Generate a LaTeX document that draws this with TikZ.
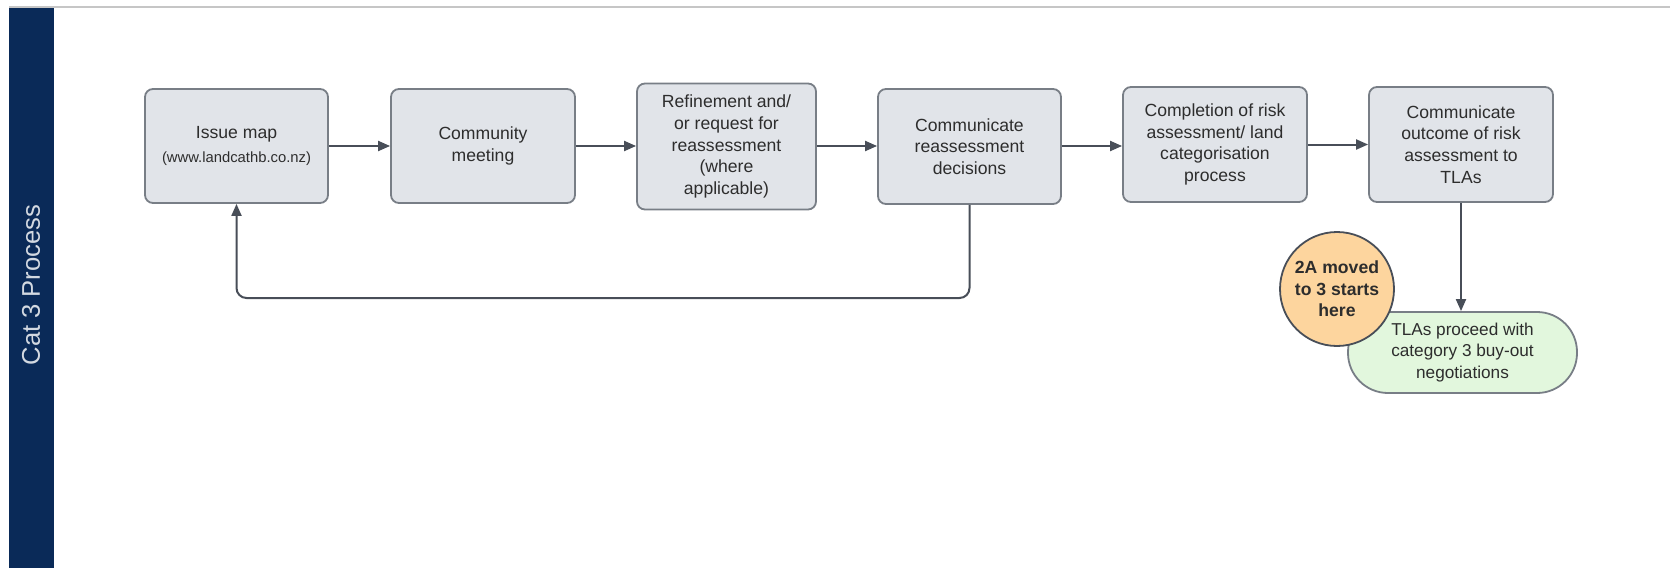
\documentclass[tikz,border=0pt]{standalone}
\usepackage{fontspec}
\setmainfont{Liberation Sans}
\usetikzlibrary{arrows.meta}
\definecolor{navy}{RGB}{10,42,88}
\definecolor{boxfill}{RGB}{225,228,233}
\definecolor{boxline}{RGB}{120,126,134}
\definecolor{conn}{RGB}{72,78,88}
\definecolor{txt}{RGB}{45,45,45}
\definecolor{peach}{RGB}{253,213,158}
\definecolor{mint}{RGB}{226,247,221}
\tikzset{
  x=0.5pt, y=-0.5pt,
  stepbox/.style={draw=boxline, fill=boxfill, line width=0.9pt, rounded corners=4pt,
    align=center, text=txt, inner sep=2pt, font=\fontsize{8.8}{10.8}\selectfont},
  arr/.style={draw=conn, line width=1pt, -{Triangle[length=6pt,width=5pt]}},
}
\begin{document}
\begin{tikzpicture}
\useasboundingbox (0,0) rectangle (1670,568);
% lane header
\fill[navy] (9,7) rectangle (54,568);
\draw[gray!45, line width=1pt] (9,7) -- (1670,7);
\node[rotate=90, text=white!82!navy, font=\fontsize{12.8}{14}\selectfont] (lane) at (31,285) {Cat 3 Process};
% boxes
\node[stepbox, minimum width=91.5pt, minimum height=57pt] (b1) at (236.5,146)
  {Issue map\\[1pt]{\fontsize{7.4}{9}\selectfont (www.landcathb.co.nz)}};
\node[stepbox, minimum width=92pt, minimum height=57pt] (b2) at (483,146) {Community\\meeting};
\node[stepbox, minimum width=89.5pt, minimum height=63pt] (b3) at (726.5,146.5)
  {Refinement and/\\or request for\\reassessment\\(where\\applicable)};
\node[stepbox, minimum width=91.5pt, minimum height=57.5pt] (b4) at (969.5,146.5)
  {Communicate\\reassessment\\decisions};
\node[stepbox, minimum width=92pt, minimum height=57.5pt] (b5) at (1215,144.5)
  {Completion of risk\\assessment/ land\\categorisation\\process};
\node[stepbox, minimum width=92pt, minimum height=57.5pt] (b6) at (1461,144.5)
  {Communicate\\outcome of risk\\assessment to\\TLAs};
% terminal
\node[draw=boxline, fill=mint, line width=0.9pt, rounded corners=20pt, align=center, text=txt,
  minimum width=114.5pt, minimum height=40.5pt, inner sep=2pt,
  font=\fontsize{8.6}{10.6}\selectfont] (end) at (1462.5,352.5)
  {TLAs proceed with\\category 3 buy-out\\negotiations};
\node[circle, draw=conn, fill=peach, line width=0.9pt, minimum size=57pt, inner sep=0pt,
  align=center, text=txt, font=\bfseries\fontsize{8.8}{10.8}\selectfont] (start) at (1337,289)
  {2A moved\\to 3 starts\\here};
% connectors
\draw[arr] (b1.east) -- (b2.west |- b1.east);
\draw[arr] (b2.east) -- (b3.west |- b2.east);
\draw[arr] (b3.east |- b2.east) -- (b4.west |- b2.east);
\draw[arr] (b4.east |- b2.east) -- (b5.west |- b2.east);
\draw[arr] (b5.east) -- (b6.west);
\draw[arr] (b6.south) -- (end.north -| b6.south);
\coordinate (loop) at (600,298);
\draw[arr, rounded corners=5pt] (b4.south) |- (loop) -| (b1.south);
\end{tikzpicture}
\end{document}
